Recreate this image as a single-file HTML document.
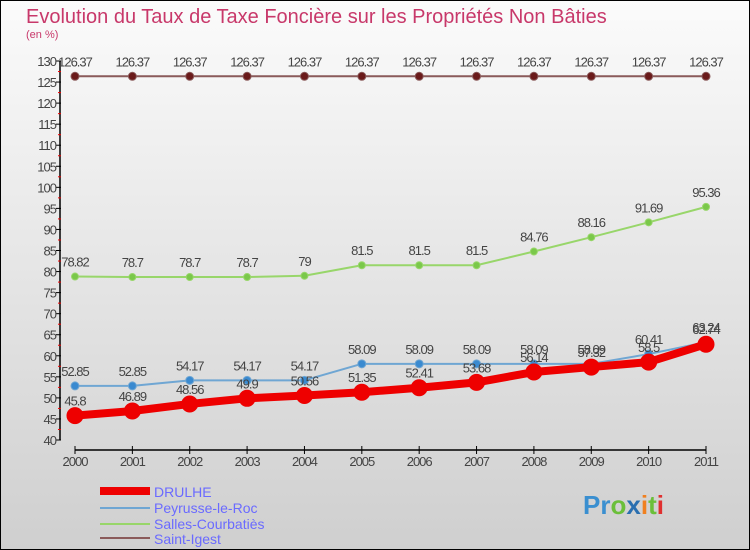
<!DOCTYPE html>
<html><head><meta charset="utf-8"><style>
body{margin:0;width:750px;height:550px;overflow:hidden}
svg{display:block;font-family:"Liberation Sans",sans-serif}
</style></head><body>
<svg id="c" width="750" height="550">
<defs><linearGradient id="bg" x1="0" y1="0" x2="0" y2="1"><stop offset="0" stop-color="#fbfbfb"/><stop offset="1" stop-color="#cfcfcf"/></linearGradient></defs>
<rect x="0.5" y="0.5" width="749" height="549" fill="url(#bg)" stroke="#000"/>
<text x="26" y="23" font-size="20" fill="#c8386a">Evolution du Taux de Taxe Foncière sur les Propriétés Non Bâties</text>
<text x="26" y="38" font-size="11" fill="#c8386a">(en %)</text>
<g id="axes"></g><g id="series"></g>
<g>
<rect x="100" y="487" width="50" height="8" fill="#e00"/>
<text x="154" y="497" font-size="14" fill="#6a6aff">DRULHE</text>
<line x1="100" y1="508" x2="150" y2="508" stroke="#6fa6d3" stroke-width="2"/>
<text x="154" y="513" font-size="14" fill="#6a6aff">Peyrusse-le-Roc</text>
<line x1="100" y1="524" x2="150" y2="524" stroke="#98d66a" stroke-width="2"/>
<text x="154" y="529" font-size="14" fill="#6a6aff">Salles-Courbatiès</text>
<line x1="100" y1="538" x2="150" y2="538" stroke="#8a5a5a" stroke-width="2"/>
<text x="154" y="544" font-size="14" fill="#6a6aff">Saint-Igest</text>
</g>
<text x="583" y="514" font-size="26" font-weight="bold"><tspan fill="#3a8fd0">Pr</tspan><tspan fill="#6bbf3a">o</tspan><tspan fill="#2a6fb0">x</tspan><tspan fill="#f08020">i</tspan><tspan fill="#6bbf3a">t</tspan><tspan fill="#e03030">i</tspan></text>
</svg>
<script>
const years=[2000,2001,2002,2003,2004,2005,2006,2007,2008,2009,2010,2011];
const drulhe=[45.8,46.89,48.56,49.9,50.56,51.35,52.41,53.68,56.14,57.32,58.5,62.74];
const peyrusse=[52.85,52.85,54.17,54.17,54.17,58.09,58.09,58.09,58.09,58.09,60.41,63.24];
const salles=[78.82,78.7,78.7,78.7,79,81.5,81.5,81.5,84.76,88.16,91.69,95.36];
const igest=[126.37,126.37,126.37,126.37,126.37,126.37,126.37,126.37,126.37,126.37,126.37,126.37];
const yTicks=[40,45,50,55,60,65,70,75,80,85,90,95,100,105,110,115,120,125,130];
const NS="http://www.w3.org/2000/svg";
const X=i=>75+i*(706-75)/(years.length-1);
const Y=v=>440-(v-40)*(440-61)/90;
function mk(t,a,p){const e=document.createElementNS(NS,t);for(const k in a)e.setAttribute(k,a[k]);p.appendChild(e);return e;}
const ax=document.getElementById('axes');
let e=mk('line',{x1:60,y1:61,x2:60,y2:440,stroke:'#000','stroke-width':1.5},ax);


e=mk('line',{x1:75,y1:450,x2:706,y2:450,stroke:'#000','stroke-width':1.5},ax);


yTicks.forEach((v,i)=>{
  mk('line',{x1:56,y1:Y(v),x2:61,y2:Y(v),stroke:'#000'},ax);
  if(i<yTicks.length-1)mk('line',{x1:58,y1:Y(v+2.5),x2:61,y2:Y(v+2.5),stroke:'#e00'},ax);
  const t=mk('text',{x:56,y:Y(v)+5,'font-size':13,fill:'#444','text-anchor':'end','letter-spacing':'-1'},ax);
  t.textContent=v;
  
  
});
years.forEach((y,i)=>{
  mk('line',{x1:X(i),y1:446,x2:X(i),y2:454,stroke:'#000'},ax);
  const t=mk('text',{x:X(i),y:466,'font-size':13,fill:'#444','text-anchor':'middle','letter-spacing':'-1'},ax);
  t.textContent=y;
  
  
});
const sg=document.getElementById('series');
function series(vals,name,color,w,r,dot){
  const g=mk('g',{},sg);
  
  
  mk('polyline',{points:vals.map((v,i)=>X(i)+','+Y(v)).join(' '),fill:'none',stroke:color,'stroke-width':w,'stroke-linejoin':'round'},g);
  vals.forEach((v,i)=>{
    const c=mk('circle',{cx:X(i),cy:Y(v),r:r,fill:dot,stroke:color,'stroke-width':1},g);
    
    
    const t=mk('text',{x:X(i),y:Y(v)-10,'font-size':13,fill:'#444','text-anchor':'middle','letter-spacing':'-1'},g);
    t.textContent=v;
    
    
  });
}
series(igest,'saint-igest','#8a5a5a',2,4,'#6a1a1a');
series(salles,'salles','#98d66a',2,3.5,'#7ac84a');
series(peyrusse,'peyrusse','#6fa6d3',2,4,'#3a8ad0');
series(drulhe,'drulhe','#e00',8,8,'#e00');
</script>
</body></html>
